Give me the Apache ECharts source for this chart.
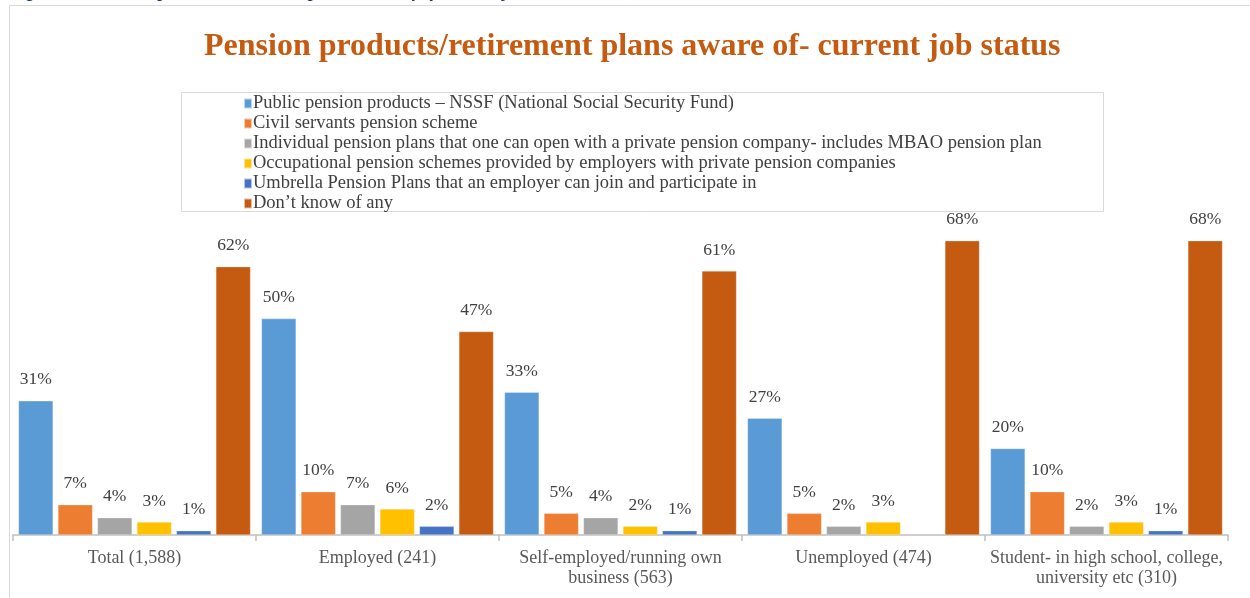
<!DOCTYPE html>
<html>
<head>
<meta charset="utf-8">
<script src="https://cdn.jsdelivr.net/npm/echarts@6/dist/echarts.min.js"></script>
<style>
  html, body { margin: 0; padding: 0; background: #ffffff; }
  #chart { width: 1250px; height: 598px; }
</style>
</head>
<body>
<div id="chart"></div>
<script>
// Job status groups (respondent counts in brackets)
const categories = [
  'Total (1,588)',
  'Employed (241)',
  'Self-employed/running own\nbusiness (563)',
  'Unemployed (474)',
  'Student- in high school, college,\nuniversity etc (310)'
];

// Share of respondents aware of each product type, in percent
const nssf         = [31, 50, 33, 27, 20];
const civilServant = [7, 10, 5, 5, 10];
const individual   = [4, 7, 4, 2, 2];
const occupational = [3, 6, 2, 3, 3];
const umbrella     = [1, 2, 1, null, 1];
const dontKnow     = [62, 47, 61, 68, 68];

const seriesNames = [
  'Public pension products \u2013 NSSF (National Social Security Fund)',
  'Civil servants pension scheme',
  'Individual pension plans that one can open with a private pension company- includes MBAO pension plan',
  'Occupational pension schemes provided by employers with private pension companies',
  'Umbrella Pension Plans that an employer can join and participate in',
  'Don\u2019t know of any'
];
const seriesData = [nssf, civilServant, individual, occupational, umbrella, dontKnow];
const colors = ['#5B9BD5', '#ED7D31', '#A5A5A5', '#FFC000', '#4472C4', '#C55A11'];

const serif = '"Liberation Serif", "Times New Roman", serif';

const chart = echarts.init(document.getElementById('chart'), null, { renderer: 'canvas' });

chart.setOption({
  animation: false,
  backgroundColor: '#ffffff',
  color: colors,
  textStyle: { fontFamily: serif },
  title: {
    text: 'Pension products/retirement plans aware of- current job status',
    left: 204,
    top: 31,
    padding: 0,
    textStyle: {
      fontFamily: serif,
      fontSize: 32,
      fontWeight: 'bold',
      color: '#C55A11'
    }
  },
  graphic: [
    {
      type: 'text',
      left: 10,
      top: -17,
      style: {
        text: 'Figure 30: Pension products/retirement plans aware of by current job status',
        font: 'italic bold 18px ' + serif,
        fill: '#1F3864'
      },
      silent: true
    },
    {
      type: 'rect',
      shape: { x: 9.5, y: 5.5, width: 1400, height: 800 },
      style: { fill: 'none', stroke: '#D9D9D9', lineWidth: 1 },
      silent: true,
      z: -1
    },
    {
      type: 'rect',
      shape: { x: 181.5, y: 92.5, width: 922, height: 119 },
      style: { fill: 'none', stroke: '#D9D9D9', lineWidth: 1 },
      silent: true
    }
  ],
  legend: {
    orient: 'vertical',
    left: 243,
    top: 94,
    padding: 0,
    itemWidth: 8,
    itemHeight: 10,
    itemGap: 1,
    icon: 'rect',
    textStyle: {
      fontFamily: serif,
      fontSize: 18.5,
      lineHeight: 16,
      color: '#404040',
      padding: [0, 0, 0, -4]
    },
    data: seriesNames
  },
  grid: {
    left: 13,
    right: 22,
    top: 232,
    bottom: 63,
    containLabel: false
  },
  xAxis: {
    type: 'category',
    data: categories,
    axisLine: { lineStyle: { color: '#BFBFBF', width: 1.5 } },
    axisTick: { show: true, length: 6, lineStyle: { color: '#BFBFBF', width: 1.5 } },
    axisLabel: {
      fontFamily: serif,
      fontSize: 18,
      color: '#595959',
      lineHeight: 20,
      margin: 13,
      interval: 0
    }
  },
  yAxis: {
    type: 'value',
    min: 0,
    max: 70,
    show: false,
    splitLine: { show: false }
  },
  series: seriesData.map((d, i) => ({
    name: seriesNames[i],
    type: 'bar',
    data: d,
    barGap: '14%',
    barCategoryGap: '4.5%',
    itemStyle: { color: colors[i], borderColor: 'rgba(255,255,255,0.6)', borderWidth: 0.5 },
    label: {
      show: true,
      position: 'top',
      distance: 12,
      formatter: p => (p.value == null ? '' : p.value + '%'),
      fontFamily: serif,
      fontSize: 17.5,
      color: '#404040'
    }
  }))
});
</script>
</body>
</html>
